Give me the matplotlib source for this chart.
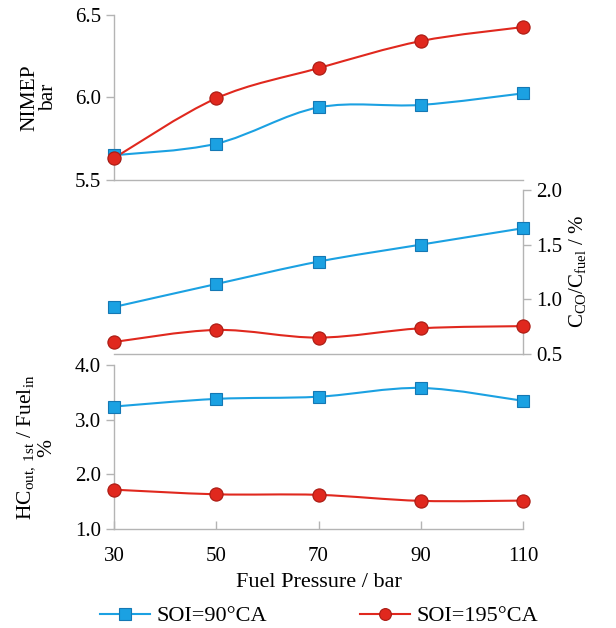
import numpy as np
import matplotlib
matplotlib.use("Agg")
from matplotlib import pyplot as plt
from matplotlib.path import Path
from matplotlib.patches import PathPatch
from matplotlib.lines import Line2D

plt.rcParams['font.family'] = ['Liberation Serif', 'DejaVu Serif']
plt.rcParams['mathtext.fontset'] = 'custom'
plt.rcParams['mathtext.rm'] = 'Liberation Serif'
plt.rcParams['mathtext.it'] = 'Liberation Serif:italic'

# fuel pressure / bar
pressure = [30, 50, 70, 90, 110]

# SOI = 90 deg CA
nimep_90 = [5.65, 5.72, 5.94, 5.955, 6.025]
cco_90 = [0.93, 1.14, 1.345, 1.50, 1.65]
hc_90 = [3.24, 3.38, 3.42, 3.58, 3.345]

# SOI = 195 deg CA
nimep_195 = [5.633, 5.995, 6.178, 6.342, 6.427]
cco_195 = [0.61, 0.72, 0.65, 0.735, 0.755]
hc_195 = [1.72, 1.635, 1.625, 1.515, 1.52]

blue = '#1ba1e2'
blue_edge = '#1478b4'
red = '#e0281e'
red_edge = '#a81a12'
grey = '#b4b4b4'


def smooth_line(ax, x, y, color):
    # catmull-rom curve through the points, drawn as cubic bezier segments
    x = np.asarray(x, float)
    y = np.asarray(y, float)
    p = np.column_stack([x, y])
    pp = np.vstack([p[0], p, p[-1]])
    verts = [p[0]]
    codes = [Path.MOVETO]
    for i in range(len(p) - 1):
        p0, p1, p2, p3 = pp[i], pp[i + 1], pp[i + 2], pp[i + 3]
        c1 = p1 + (p2 - p0) / 6.0
        c2 = p2 - (p3 - p1) / 6.0
        verts += [c1, c2, p2]
        codes += [Path.CURVE4] * 3
    ax.add_patch(PathPatch(Path(verts, codes), fc='none', ec=color, lw=1.5, zorder=2))


def series(ax, y90, y195):
    smooth_line(ax, pressure, y90, blue)
    smooth_line(ax, pressure, y195, red)
    ax.plot(pressure, y90, ls='none', marker='s', ms=9, mfc=blue, mec=blue_edge,
            mew=0.8, zorder=3, clip_on=False)
    ax.plot(pressure, y195, ls='none', marker='o', ms=9.5, mfc=red, mec=red_edge,
            mew=0.8, zorder=3, clip_on=False)


def style(ax):
    for s in ax.spines.values():
        s.set_color(grey)
        s.set_linewidth(1.0)
    ax.tick_params(colors=grey, labelcolor='black', labelsize=15, width=1.0, length=6)
    ax.set_xlim(30, 110)
    ax.set_xticks(pressure)
    ax.patch.set_alpha(0)


fig = plt.figure(figsize=(6.16, 6.28), dpi=100)
L, W = 0.1851, 0.664

# NIMEP
ax1 = fig.add_axes([L, 0.7134, W, 0.2627])
series(ax1, nimep_90, nimep_195)
style(ax1)
ax1.set_ylim(5.5, 6.5)
ax1.set_yticks([5.5, 6.0, 6.5])
ax1.set_yticklabels(['5.5', '6.0', '6.5'])
ax1.spines['top'].set_visible(False)
ax1.spines['right'].set_visible(False)
ax1.tick_params(axis='x', bottom=False, labelbottom=False)

# CO
ax2 = fig.add_axes([L, 0.4363, W, 0.2612])
series(ax2, cco_90, cco_195)
style(ax2)
ax2.set_ylim(0.5, 2.0)
ax2.set_yticks([0.5, 1.0, 1.5, 2.0])
ax2.set_yticklabels(['0.5', '1.0', '1.5', '2.0'])
ax2.yaxis.tick_right()
ax2.spines['top'].set_visible(False)
ax2.spines['left'].set_visible(False)
ax2.tick_params(axis='x', bottom=False, labelbottom=False)

# HC
ax3 = fig.add_axes([L, 0.1576, W, 0.2612])
series(ax3, hc_90, hc_195)
style(ax3)
ax3.set_ylim(1.0, 4.0)
ax3.set_yticks([1.0, 2.0, 3.0, 4.0])
ax3.set_yticklabels(['1.0', '2.0', '3.0', '4.0'])
ax3.spines['top'].set_visible(False)
ax3.spines['right'].set_visible(False)
ax3.tick_params(axis='x', direction='in', pad=13)
ax3.set_xlabel('Fuel Pressure / bar', fontsize=16, labelpad=5)

fig.text(0.064, 0.845, 'NIMEP\nbar', rotation=90, ha='center', va='center',
         fontsize=15.5, linespacing=1.0)
fig.text(0.937, 0.567, r'C$_{\rm CO}$/C$_{\rm fuel}$ / %', rotation=90,
         ha='center', va='center', fontsize=15)
fig.text(0.058, 0.287, 'HC$_{\\rm out,\\ 1st}$ / Fuel$_{\\rm in}$\n%', rotation=90,
         ha='center', va='center', fontsize=15.5, linespacing=1.0)

h90 = Line2D([], [], color=blue, lw=1.5, marker='s', ms=8, mfc=blue, mec=blue_edge, mew=0.8)
h195 = Line2D([], [], color=red, lw=1.5, marker='o', ms=8.5, mfc=red, mec=red_edge, mew=0.8)
fig.legend([h90, h195], ['SOI=90°CA', 'SOI=195°CA'], loc='center',
           bbox_to_anchor=(0.518, 0.019), ncol=2, frameon=False, fontsize=16,
           handlelength=2.25, handletextpad=0.3, columnspacing=4.2)

fig.savefig('out.png', dpi=100)
